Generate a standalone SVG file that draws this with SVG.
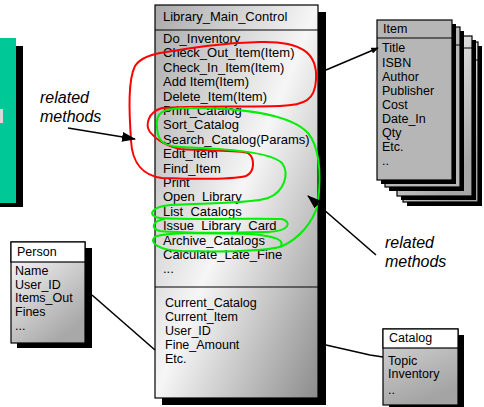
<svg xmlns="http://www.w3.org/2000/svg" width="484" height="407" viewBox="0 0 484 407">
<style>
  text { font-family: "Liberation Sans", Arial, sans-serif; fill: #000; }
  .m { font-size: 13px; }
  .p { font-size: 12.5px; }
  .s { font-size: 12.5px; }
  .note { font-size: 16px; font-style: italic; }
  .box { stroke: #000; stroke-width: 1.2; }
  .shadow { fill: #000; }
  .div { stroke: #000; stroke-width: 1; }
  .conn { fill: none; stroke: #000; stroke-width: 1.6; }
  .red { fill: none; stroke: #ff0000; stroke-width: 2; }
  .green { fill: none; stroke: #00ee00; stroke-width: 2; }
</style>
<defs>
  <linearGradient id="gMain" x1="0" y1="0" x2="1" y2="1">
    <stop offset="0" stop-color="#a9a9a9"/>
    <stop offset="0.5" stop-color="#f6f6f6"/>
    <stop offset="1" stop-color="#8c8c8c"/>
  </linearGradient>
  <linearGradient id="gWhiteGray" x1="0" y1="0" x2="0.6" y2="1">
    <stop offset="0" stop-color="#ffffff"/>
    <stop offset="1" stop-color="#a8a8a8"/>
  </linearGradient>
  <linearGradient id="gCat" x1="0" y1="0" x2="0.4" y2="1">
    <stop offset="0" stop-color="#d8d8d8"/>
    <stop offset="1" stop-color="#a4a4a4"/>
  </linearGradient>
  <marker id="ah" viewBox="0 0 14 10" refX="13" refY="5" markerWidth="14" markerHeight="10" markerUnits="userSpaceOnUse" orient="auto">
    <path d="M0,0 L14,5 L0,10 Z" fill="#000"/>
  </marker>
  <marker id="ahs" viewBox="0 0 10 8" refX="9" refY="4" markerWidth="8" markerHeight="6" markerUnits="userSpaceOnUse" orient="auto">
    <path d="M0,0 L10,4 L0,8 Z" fill="#000"/>
  </marker>
</defs>

<!-- side shape at left edge -->
<g id="side-panel">
  <rect x="16" y="46" width="7" height="161" class="shadow"/>
  <rect x="0" y="203" width="23" height="4" class="shadow"/>
  <rect x="-1" y="38" width="17" height="165" fill="#00c896"/>
  <rect x="0" y="109" width="3" height="14" fill="#d8d8d8"/>
</g>

<!-- Main class -->
<g id="node-library-main-control">
  <rect x="318" y="12" width="8" height="393" class="shadow"/>
  <rect x="162" y="398" width="164" height="7" class="shadow"/>
  <rect x="155" y="5" width="163" height="393" fill="url(#gMain)" class="box"/>
  <line x1="155" y1="30" x2="318" y2="30" class="div"/>
  <line x1="155" y1="287" x2="318" y2="287" class="div"/>
  <text x="163" y="21" class="m">Library_Main_Control</text>
  <text x="163" y="43" class="m">Do_Inventory</text>
  <text x="163" y="57.4" class="m">Check_Out_Item(Item)</text>
  <text x="163" y="71.8" class="m">Check_In_Item(Item)</text>
  <text x="163" y="86.2" class="m">Add Item(Item)</text>
  <text x="163" y="100.6" class="m">Delete_Item(Item)</text>
  <text x="163" y="115" class="m">Print_Catalog</text>
  <text x="163" y="129.4" class="m">Sort_Catalog</text>
  <text x="163" y="143.8" class="m">Search_Catalog(Params)</text>
  <text x="163" y="158.2" class="m">Edit_Item</text>
  <text x="163" y="172.6" class="m">Find_Item</text>
  <text x="163" y="187" class="m">Print</text>
  <text x="163" y="201.4" class="m">Open_Library</text>
  <text x="163" y="215.8" class="m">List_Catalogs</text>
  <text x="163" y="230.2" class="m">Issue_Library_Card</text>
  <text x="163" y="244.6" class="m">Archive_Catalogs</text>
  <text x="163" y="259" class="m">Calculate_Late_Fine</text>
  <text x="163" y="273.4" class="m">...</text>
  <text x="165" y="306.5" class="s">Current_Catalog</text>
  <text x="165" y="320.5" class="s">Current_Item</text>
  <text x="165" y="334.5" class="s">User_ID</text>
  <text x="165" y="348.5" class="s">Fine_Amount</text>
  <text x="165" y="362.5" class="s">Etc.</text>
</g>

<!-- Item (stacked cards) -->
<g id="node-item">
  <rect x="407" y="46" width="75" height="160" class="shadow"/>
  <rect x="403" y="42" width="75" height="160" fill="url(#gWhiteGray)" class="box"/>
  <line x1="403" y1="60" x2="478" y2="60" class="div"/>
  <rect x="401" y="40" width="75" height="160" class="shadow"/>
  <rect x="397" y="36" width="75" height="160" fill="url(#gWhiteGray)" class="box"/>
  <line x1="397" y1="48" x2="472" y2="48" class="div"/>
  <rect x="389" y="31" width="75" height="160" class="shadow"/>
  <rect x="385" y="27" width="75" height="160" fill="#b8b8b8" class="box"/>
  <line x1="385" y1="45" x2="460" y2="45" class="div"/>
  <rect x="381" y="24" width="75" height="160" class="shadow"/>
  <rect x="377" y="20" width="75" height="160" fill="#b6b6b6" class="box"/>
  <line x1="377" y1="38" x2="452" y2="38" class="div"/>
  <text x="383" y="33" class="s">Item</text>
  <text x="382" y="52" class="s">Title</text>
  <text x="382" y="66.5" class="s">ISBN</text>
  <text x="382" y="80.5" class="s">Author</text>
  <text x="382" y="94.5" class="s">Publisher</text>
  <text x="382" y="109" class="s">Cost</text>
  <text x="382" y="123" class="s">Date_In</text>
  <text x="382" y="137" class="s">Qty</text>
  <text x="382" y="151" class="s">Etc.</text>
  <text x="382" y="165" class="s">..</text>
</g>

<!-- Person -->
<g id="node-person">
  <rect x="17" y="248" width="75" height="100" class="shadow"/>
  <rect x="11" y="242" width="74" height="101" fill="url(#gWhiteGray)" class="box"/>
  <rect x="11" y="242" width="74" height="20" fill="#ffffff" class="box"/>
  <text x="17" y="256" class="p">Person</text>
  <text x="15" y="275" class="p">Name</text>
  <text x="15" y="288.5" class="p">User_ID</text>
  <text x="15" y="302" class="p">Items_Out</text>
  <text x="15" y="315.5" class="p">Fines</text>
  <text x="15" y="330" class="p">...</text>
</g>

<!-- Catalog -->
<g id="node-catalog">
  <rect x="389" y="335" width="75" height="72" class="shadow"/>
  <rect x="383" y="329" width="75" height="76" fill="url(#gCat)" class="box"/>
  <rect x="383" y="329" width="75" height="19" fill="#ffffff" class="box"/>
  <text x="389" y="342" class="s">Catalog</text>
  <text x="388" y="364.5" class="s">Topic</text>
  <text x="388" y="378" class="s">Inventory</text>
  <text x="388" y="394" class="s">..</text>
</g>

<!-- Connectors -->
<g id="connectors">
  <line x1="326" y1="70" x2="378" y2="48" class="conn" stroke-width="2" marker-end="url(#ahs)"/>
  <line x1="92" y1="295" x2="155" y2="350" class="conn"/>
  <polyline points="326,345 370,355 383,357" class="conn"/>
</g>

<!-- Highlight curves -->
<g id="highlights">
  <path class="red" d="M 160,53 C 190,48 220,43 260,42 C 300,41 318,52 316,80 C 315,100 305,105 280,106 C 240,107 190,106 162,108 C 148,112 145,125 150,132 C 156,140 166,146 180,149 C 210,151 240,150 248,153 C 255,158 255,172 246,176 C 230,180 190,179 162,178 C 145,176 132,165 131,140 C 129,110 128,80 135,66 C 140,58 150,55 160,53 Z"/>
  <path class="green" d="M 157,128 C 155,112 162,108 190,108 C 240,108 290,114 308,133 C 322,150 320,185 318,203 C 314,222 298,240 280,247"/>
  <path class="green" d="M 157,128 C 158,140 162,146 180,147 C 230,149 270,152 282,163 C 290,174 284,192 268,198 C 250,204 200,203 170,205 C 150,207 147,216 160,218 C 190,220 260,218 282,219"/>
  <path class="green" d="M 282,219 C 292,222 290,231 268,232 C 230,233 180,233 160,231 C 150,229 152,221 165,219"/>
  <path class="green" d="M 280,247 C 286,240 275,236 250,234 C 200,233 165,232 155,237 C 148,243 160,250 180,251 C 220,252 262,251 280,247"/>
</g>

<!-- Annotations -->
<g id="annotations">
  <text x="40" y="103" class="note">related</text>
  <text x="40" y="122" class="note">methods</text>
  <line x1="68" y1="128" x2="135" y2="139" class="conn" stroke-width="1.5" marker-end="url(#ah)"/>
  <text x="385" y="248" class="note">related</text>
  <text x="385" y="267" class="note">methods</text>
  <line x1="376" y1="255" x2="308" y2="196" class="conn" stroke-width="1.5" marker-end="url(#ah)"/>
</g>
</svg>
